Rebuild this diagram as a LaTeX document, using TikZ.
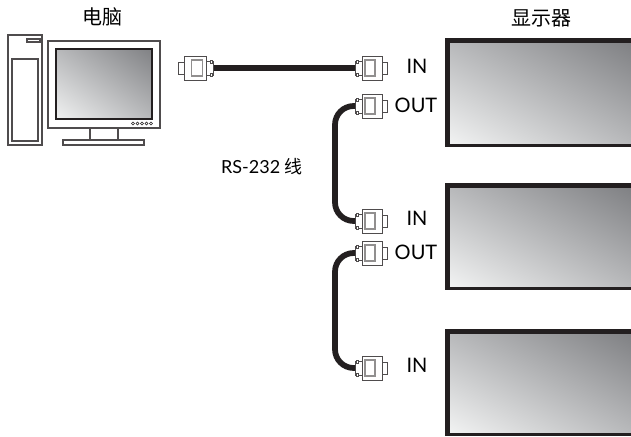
\documentclass[tikz,border=0pt]{standalone}
\usepackage{fontspec}
\setmainfont{Lato}
\newfontfamily\cjk{Noto Sans CJK SC}
\usepackage{tikz}
\usetikzlibrary{shadings}
\definecolor{inkdark}{HTML}{231F20}
\definecolor{shadedark}{HTML}{808184}
\definecolor{shademid}{HTML}{B8B9BB}
\definecolor{shadelight}{HTML}{F1F2F2}
\tikzset{
  screen/.style={lower left=shadelight,upper right=shadedark,upper left=shademid,lower right=shademid},
  case/.style={draw=inkdark!80,line width=0.8pt,fill=white},
  cable/.style={draw=inkdark,line width=4.3pt},
  label/.style={inner sep=0pt,font=\fontsize{15}{15}\selectfont},
  title/.style={inner sep=0pt,font=\cjk\fontsize{15}{15}\selectfont},
  port/.pic={
    \draw[case,line width=0.5pt] (-7,-7) rectangle (0,7);
    \draw[case,line width=0.5pt] (-6,-8) rectangle (-4,-5);
    \draw[case,line width=0.5pt] (-6,5) rectangle (-4,8);
    \draw[case,line width=0.5pt] (20,-6) rectangle (25,6);
    \draw[case,line width=0.6pt] (0,-12) rectangle (20,12);
    \draw[draw=inkdark!50,line width=0.9pt] (3,-8) rectangle (13,8);
    \coordinate (-plug) at (-7,0);
  }
}
\begin{document}
\begin{tikzpicture}[x=0.75pt,y=-0.75pt]
  \useasboundingbox (0,0) rectangle (631,436);
  % tower
  \draw[case] (8,35) rectangle (42,145);
  \draw[case] (27,39) rectangle (40,42);
  \draw[case] (12,59) rectangle (38,141);
  % desktop monitor
  \draw[case] (90,128) rectangle (118,140);
  \draw[case] (63,140) rectangle (144,145);
  \draw[case] (48,41) rectangle (160,128);
  \shade[screen,draw=inkdark,line width=0.8pt] (56,49) rectangle (152,119);
  \foreach \x in {133,137.5,142,146.5,151}
    \draw[inkdark,line width=0.4pt] (\x,123.5) circle (1.5);
  % wall panels
  \fill[inkdark] (445,38) rectangle (631,147);
  \shade[screen] (450,43) rectangle (631,143);
  \fill[inkdark] (445,183) rectangle (631,290);
  \shade[screen] (450,188) rectangle (631,286);
  \fill[inkdark] (445,329) rectangle (631,436);
  \shade[screen] (450,334) rectangle (631,432);
  % ports
  \pic[xscale=-1.1] (pc) at (206,68) {port};
  \pic (inA) at (362,68) {port};
  \pic (outA) at (362,106) {port};
  \pic (inB) at (362,221) {port};
  \pic (outB) at (362,253) {port};
  \pic (inC) at (362,368) {port};
  % cables
  \draw[cable] (pc-plug) -- (inA-plug);
  \draw[cable,rounded corners=14pt] (outA-plug) -- ++(-20,0) |- (inB-plug);
  \draw[cable,rounded corners=14pt] (outB-plug) -- ++(-20,0) |- (inC-plug);
  % text
  \node[title] (pclabel) at (102,17) {电脑};
  \node[title] (panellabel) at (541,18) {显示器};
  \node[label] (inAlabel) at (417,66) {IN};
  \node[label] (outAlabel) at (416,105) {OUT};
  \node[label] (inBlabel) at (417,218) {IN};
  \node[label] (outBlabel) at (416,252) {OUT};
  \node[label] (inClabel) at (417,365) {IN};
  \node[inner sep=0pt,font=\fontsize{13.5}{13.5}\selectfont] (cablelabel) at (262,167) {RS-232 {\cjk 线}};
\end{tikzpicture}
\end{document}
